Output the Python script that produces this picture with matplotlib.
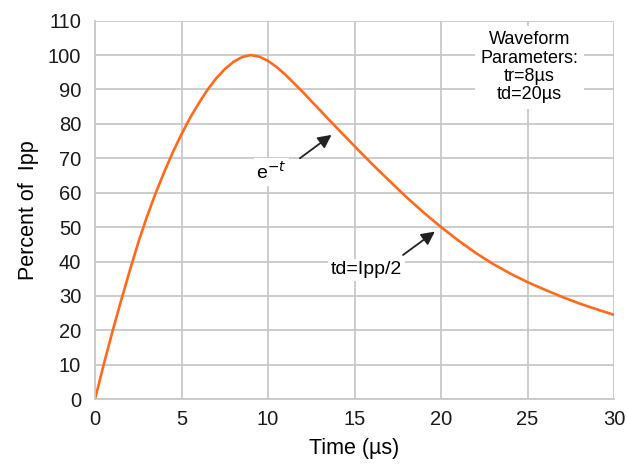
import numpy as np
import matplotlib
matplotlib.use('Agg')
import matplotlib.pyplot as plt

plt.rcParams['font.family'] = ['Liberation Sans', 'DejaVu Sans']

# values
time_us = [0, 0.5, 1, 1.5, 2, 2.5, 3, 3.5, 4, 4.5, 5, 5.5, 6, 6.5, 7, 7.5, 8, 8.5, 9, 9.5,
           10, 10.5, 11, 11.5, 12, 12.5, 13, 13.5, 14, 14.5, 15, 16, 17, 18, 19, 20,
           21, 22, 23, 24, 25, 26, 27, 28, 29, 30]
pct_ipp = [0, 10, 19.5, 28.5, 37.2, 45.5, 53, 59.8, 66, 71.8, 77, 81.8, 86, 89.9, 93.2, 95.9, 98, 99.4, 100, 99.5,
           98.3, 96.5, 94.3, 91.8, 89.3, 86.6, 84, 81.3, 78.7, 76.1, 73.5, 68.4, 63.5, 58.7, 54.2, 50,
           46.1, 42.5, 39.3, 36.5, 34, 31.8, 29.7, 27.8, 26.1, 24.5]

fig = plt.figure(figsize=(6.27, 4.68), dpi=100)
ax = fig.add_axes([0.1515, 0.147, 0.828, 0.809])

ax.plot(time_us, pct_ipp, color='#FF6A1A', lw=1.9)

ax.set_xlim(0, 30)
ax.set_ylim(0, 110)
ax.set_xticks(range(0, 31, 5))
ax.set_yticks(range(0, 111, 10))
ax.grid(True, color='#c8c8c8', lw=1.3)
ax.set_axisbelow(True)
for s in ['top', 'right']:
    ax.spines[s].set_visible(False)
for s in ['left', 'bottom']:
    ax.spines[s].set_color('#c8c8c8')
    ax.spines[s].set_linewidth(1.3)
ax.tick_params(length=0, labelsize=14.5, colors='#1a1a1a')
ax.tick_params(axis='y', pad=10)
ax.tick_params(axis='x', pad=8)

ax.set_xlabel('Time (µs)', fontsize=15.5, labelpad=6)
ax.set_ylabel('Percent of  Ipp', fontsize=15.5, labelpad=6)

arrow = dict(arrowstyle='-|>', color='#222222', lw=1.3, mutation_scale=20,
             shrinkA=0, shrinkB=0)
ax.annotate('', xy=(13.67, 76.8), xytext=(11.84, 70), arrowprops=arrow)
ax.text(10.2, 66, 'e$^{-t}$', fontsize=14, ha='center', va='center',
        bbox=dict(facecolor='white', edgecolor='none', pad=2))
ax.annotate('', xy=(19.64, 48.7), xytext=(17.8, 41.9), arrowprops=arrow)
ax.text(15.7, 37.6, 'td=Ipp/2', fontsize=14, ha='center', va='center',
        bbox=dict(facecolor='white', edgecolor='none', pad=2))
ax.text(25.1, 96.4, 'Waveform\nParameters:\ntr=8µs\ntd=20µs', fontsize=13,
        ha='center', va='center', linespacing=1.1,
        bbox=dict(facecolor='white', edgecolor='none', pad=4))

fig.savefig('out.png', dpi=100)
